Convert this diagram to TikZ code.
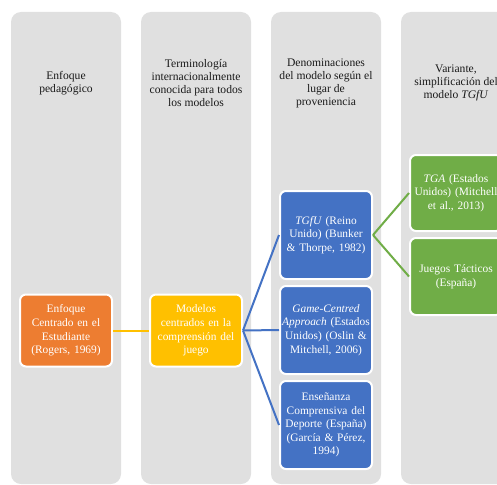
\documentclass[tikz,border=0pt]{standalone}
\usepackage{fontspec}
\setmainfont{Liberation Serif}
\definecolor{colbg}{HTML}{E0E0E0}
\definecolor{orangebox}{HTML}{ED7D31}
\definecolor{yellowbox}{HTML}{FFC000}
\definecolor{bluebox}{HTML}{4472C4}
\definecolor{greenbox}{HTML}{70AD47}
\definecolor{headtext}{HTML}{1A1A1A}
\begin{document}
\begin{tikzpicture}[x=1pt,y=-1pt,
  colrect/.style={fill=colbg, rounded corners=10pt},
  header/.style={text=headtext, align=center, font=\fontsize{11.6}{13}\selectfont, inner sep=0pt},
  box/.style={draw=white, line width=2pt, rounded corners=6pt, minimum width=92pt, text width=92pt, align=center, text=white, font=\fontsize{11.4}{13.6}\selectfont, inner sep=0pt},
  conn/.style={line width=2pt}
]
\useasboundingbox (0,0) rectangle (497,484);
\clip (0,0) rectangle (497,484);
\fill[white] (0,0) rectangle (497,484);
% columns
\fill[colrect] (11,12) rectangle (121,484);
\fill[colrect] (141,12) rectangle (251,484);
\fill[colrect] (271,12) rectangle (381,484);
\fill[colrect] (401,12) rectangle (511,484);
% headers
\node[header] (h1) at (66,83) {Enfoque\\pedagógico};
\node[header] (h2) at (196,83) {Terminología\\internacionalmente\\conocida para todos\\los modelos};
\node[header] (h3) at (326,83) {Denominaciones\\del modelo según el\\lugar de\\proveniencia};
\node[header] (h4) at (456,83) {Variante,\\simplificación del\\modelo \textit{TGfU}};
% boxes
\node[box, fill=orangebox, minimum height=72pt] (est) at (66,330.5) {Enfoque\\Centrado en el\\Estudiante\\(Rogers, 1969)};
\node[box, fill=yellowbox, minimum height=72pt] (mod) at (196,330.5) {Modelos\\centrados en la\\comprensión del\\juego};
\node[box, fill=bluebox, minimum height=88pt] (tgfu) at (326,235) {\textit{TGfU} (Reino\\Unido) (Bunker\\\& Thorpe, 1982)};
\node[box, fill=bluebox, minimum height=88pt] (gca) at (326,330) {\textit{Game-Centred}\\\textit{Approach} (Estados\\Unidos) (Oslin \&\\Mitchell, 2006)};
\node[box, fill=bluebox, minimum height=88pt] (ecd) at (326,425) {Enseñanza\\Comprensiva del\\Deporte (España)\\(García \& Pérez,\\1994)};
\node[box, fill=greenbox, minimum height=76pt] (tga) at (456,193) {\textit{TGA} (Estados\\Unidos) (Mitchell\\et al., 2013)};
\node[box, fill=greenbox, minimum height=77pt] (jt) at (456,276.5) {Juegos Tácticos\\(España)};
% connectors
\draw[conn, yellowbox] (est.east) -- (mod.west);
\draw[conn, bluebox] (mod.east) -- (tgfu.west);
\draw[conn, bluebox] (mod.east) -- (gca.west);
\draw[conn, bluebox] (mod.east) -- (ecd.west);
\draw[conn, greenbox] (tgfu.east) -- (tga.west);
\draw[conn, greenbox] (tgfu.east) -- (jt.west);
\end{tikzpicture}
\end{document}
